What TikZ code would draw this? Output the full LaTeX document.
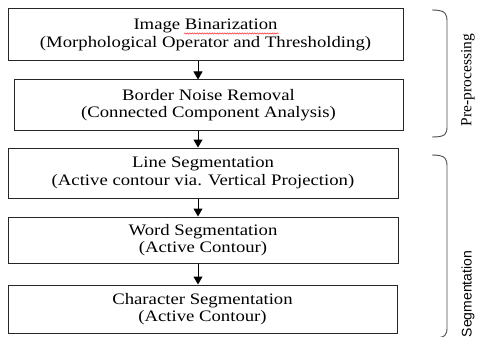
\documentclass[tikz,border=0pt]{standalone}
\usepackage{fontspec}
\setmainfont{Liberation Serif}[FakeStretch=1.17]
\newfontfamily\plainserif{Liberation Serif}
\newfontfamily\plainsans{Liberation Sans}
\usetikzlibrary{arrows.meta,decorations.pathmorphing}
\tikzset{
  stage/.style={draw=black!85, line width=1pt, align=center, inner sep=0pt,
    font=\fontsize{16}{17.5}\selectfont},
  arr/.style={line width=1pt, -{Triangle[length=8pt,width=9pt]}},
  brace/.style={draw=black!70, line width=0.9pt},
  side/.style={rotate=90, inner sep=0pt},
}
\begin{document}
\begin{tikzpicture}[x=1pt,y=-1pt]
\useasboundingbox (0,0) rectangle (477,337);
\clip (0,0) rectangle (477,337);
\node[stage, minimum width=395pt, minimum height=52pt] (b1) at (205.5,35)
  {Image Binarization\\(Morphological Operator and Thresholding)};
\node[stage, minimum width=389pt, minimum height=50pt] (b2) at (208.5,105)
  {Border Noise Removal\\(Connected Component Analysis)};
\node[stage, minimum width=390pt, minimum height=50pt] (b3) at (203,173)
  {Line Segmentation\\(Active contour via. Vertical Projection)};
\node[stage, minimum width=390pt, minimum height=46pt] (b4) at (203,240)
  {Word Segmentation\\(Active Contour)};
\node[stage, minimum width=389pt, minimum height=48pt] (b5) at (202.5,309)
  {Character Segmentation\\(Active Contour)};
\coordinate (ax) at (198,0);
\draw[arr] (b1.south -| ax) -- (b2.north -| ax);
\draw[arr] (b2.south -| ax) -- (b3.north -| ax);
\draw[arr] (b3.south -| ax) -- (b4.north -| ax);
\draw[arr] (b4.south -| ax) -- (b5.north -| ax);
\draw[red, line width=0.4pt, decorate, decoration={snake, amplitude=0.7pt, segment length=2.5pt}]
  (184,33.5) -- (279,33.5);
\draw[brace] (432,10) .. controls (446,10) and (447,14) .. (447,22) -- (447,126)
  .. controls (447,134) and (446,137) .. (432,137);
\draw[brace] (432,155) .. controls (446,155) and (447,159) .. (447,167) -- (447,327)
  .. controls (447,335) and (446,338) .. (432,338);
\node[side, font=\plainserif\fontsize{15.5}{17}\selectfont] (pp) at (468,80) {Pre-processing};
\node[side, font=\plainsans\fontsize{14}{16}\selectfont] (sg) at (468,294) {Segmentation};
\end{tikzpicture}
\end{document}
